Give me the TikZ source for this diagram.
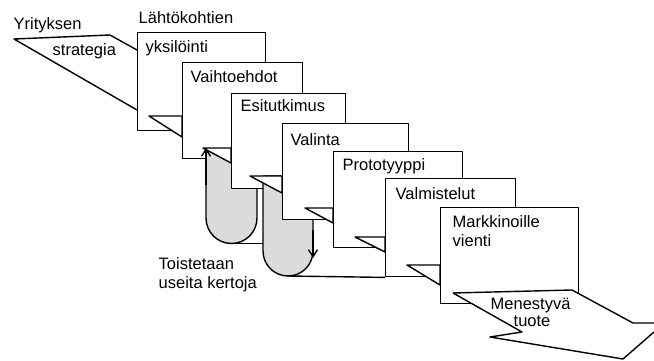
\documentclass[tikz,border=0pt]{standalone}
\usepackage{fontspec}
\setmainfont{Liberation Sans}
\usetikzlibrary{arrows.meta,positioning}

\begin{document}
\begin{tikzpicture}[x=1pt,y=-1pt,line width=1.4pt,line join=round,
			stage/.style={draw,fill=white,anchor=north west,inner sep=0pt},
			lbl/.style={anchor=base west,inner sep=0pt,font=\fontsize{16.5}{19}\selectfont},
			fold/.style={draw,fill=white},
			rework/.style={draw,fill=gray!28},
			turn/.style={-{Straight Barb[length=7pt,width=9pt]}}]
		\useasboundingbox (0,0) rectangle (654,361);
		\coordinate (s1) at (14,39); \coordinate (s2) at (110,35);
		\draw (137,50) -- (s2) -- (s1) -- (137,110);
		\node[lbl] (yri) at (13,30) {Yrityksen};
		\node[lbl] (str) at (52,56) {strategia};
		\node[lbl] (lah) at (138,24) {Lähtökohtien};
		\node[stage,minimum width=128pt,minimum height=98pt] (yks) at (137,32) {};
		\node[lbl] at ([shift={(8,21)}]yks.north west) {yksilöinti};
		\draw[fold] (149,116) -- (182,116) -- (182,137) -- cycle;
		\node[stage,minimum width=120pt,minimum height=96pt] (vaih) at (182,62) {};
		\node[lbl] at ([shift={(8,21)}]vaih.north west) {Vaihtoehdot};
		\draw[rework] (206,150) -- (206,218) arc[start angle=180,end angle=360,radius=25.5pt] -- (257,150) -- cycle;
		\coordinate (r1bot) at (231.5,243.5);
		\draw[fold] (203,148) -- (231,148) -- (231,163) -- cycle;
		\draw[turn] (206,185) -- (206,148);
		\node[stage,minimum width=114pt,minimum height=95pt] (esi) at (231,93) {};
		\node[lbl] at ([shift={(9,19)}]esi.north west) {Esitutkimus};
		\draw[rework] (263,176) -- (263,251) arc[start angle=180,end angle=360,radius=25pt] -- (313,251) -- (313,176) -- cycle;
		\coordinate (r2left) at (263,243.5); \coordinate (r2bot) at (288,276);
		\draw (r1bot) -- (r2left);
		\draw[fold] (250,176) -- (282,176) -- (282,193) -- cycle;
		\node[stage,minimum width=126pt,minimum height=96pt] (val) at (282,123) {};
		\node[lbl] at ([shift={(8,23)}]val.north west) {Valinta};
		\draw[turn] (313,230) -- (313,258);
		\draw[fold] (305,208) -- (333,208) -- (333,223) -- cycle;
		\node[stage,minimum width=129pt,minimum height=96pt] (proto) at (333,151) {};
		\node[lbl] at ([shift={(9,19)}]proto.north west) {Prototyyppi};
		\draw[fold] (355,237) -- (385,237) -- (385,252) -- cycle;
		\node[stage,minimum width=130pt,minimum height=98pt] (valm) at (385,178) {};
		\node[lbl] at ([shift={(10,21)}]valm.north west) {Valmistelut};
		\draw (r2bot) -- (valm.south west);
		\draw[fold] (407,265) -- (440,265) -- (440,285) -- cycle;
		\node[stage,minimum width=138pt,minimum height=96pt] (mark) at (440,207) {};
		\node[lbl,align=left,anchor=north west] at ([shift={(12,8)}]mark.north west) {Markkinoille\\vienti};
		\fill[white] (453,293) -- (572,290) -- (633,323) -- (654,323) -- (654,332) -- (623,359) -- (490,337) -- (522,332) -- cycle;
		\draw (453,293) -- (572,290) -- (633,323) -- (654,323);
		\draw (654,332) -- (623,359) -- (490,337) -- (522,332) -- (453,293);
		\node[lbl] (men) at (490,309) {Menestyvä};
		\node[lbl] (tuo) at (513,326) {tuote};
		\node[lbl] (toi) at (158,269) {Toistetaan};
		\node[lbl] (use) at (158,288) {useita kertoja};
	\end{tikzpicture}
\end{document}
